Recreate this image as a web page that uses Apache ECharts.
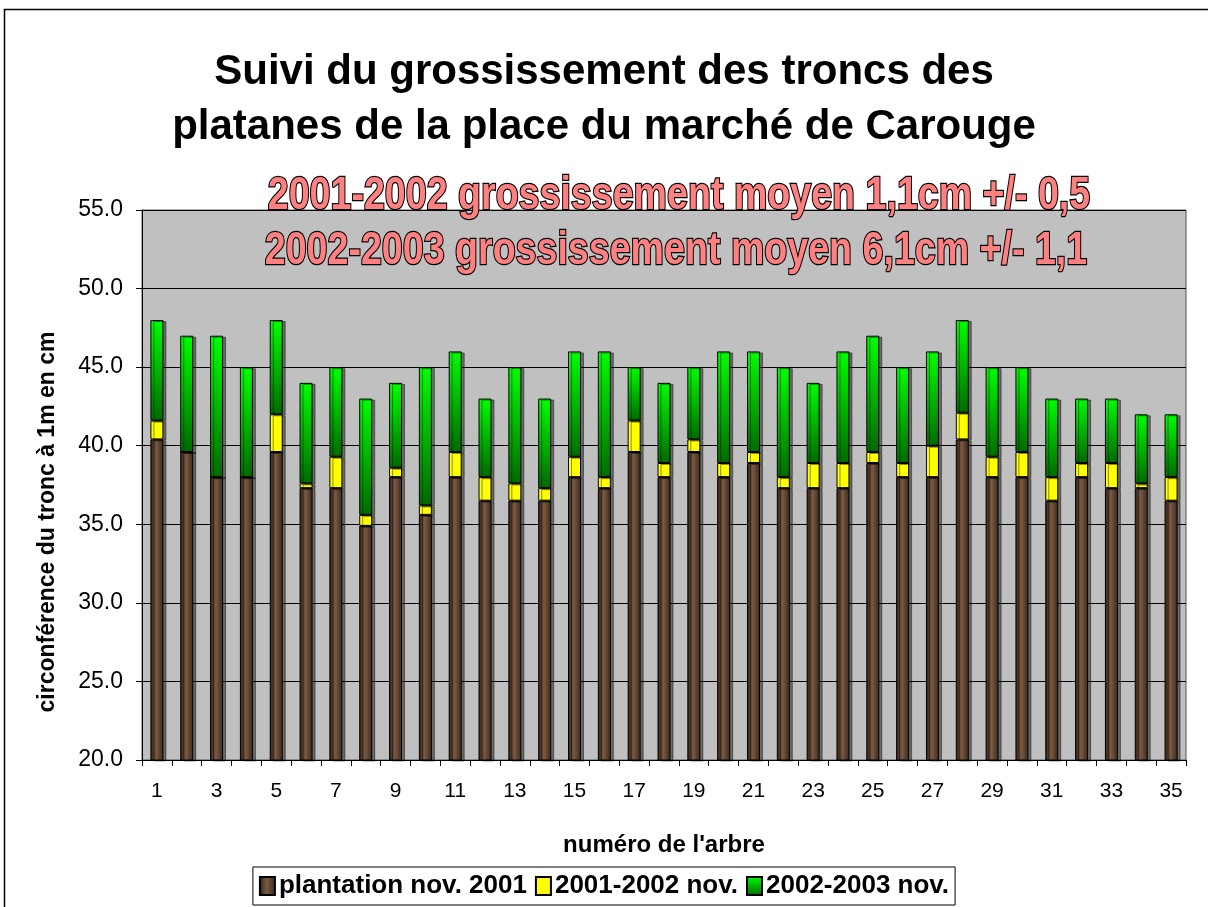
<!DOCTYPE html>
<html>
<head>
<meta charset="utf-8">
<script src="https://cdn.jsdelivr.net/npm/echarts@6/dist/echarts.min.js"></script>
<style>
html,body{margin:0;padding:0;background:#fff;}
#chart{width:1208px;height:907px;}
</style>
</head>
<body>
<div id="chart"></div>
<script>
// numéros des arbres
var arbres = [];
for (var i = 1; i <= 35; i++) arbres.push(String(i));

// circonférence à la plantation (nov. 2001), cm
var plantation = [40.4, 39.6, 38.0, 38.0, 39.6, 37.3, 37.3, 34.9, 38.0, 35.6,
	38.0, 36.5, 36.5, 36.5, 38.0, 37.3, 39.6, 38.0, 39.6, 38.0,
	38.9, 37.3, 37.3, 37.3, 38.9, 38.0, 38.0, 40.4, 38.0, 38.0,
	36.5, 38.0, 37.3, 37.3, 36.5];
// grossissement 2001-2002, cm
var croissance0102 = [1.2, 0, 0, 0, 2.4, 0.3, 2.0, 0.7, 0.6, 0.6,
	1.6, 1.5, 1.1, 0.8, 1.3, 0.7, 2.0, 0.9, 0.8, 0.9,
	0.7, 0.7, 1.6, 1.6, 0.7, 0.9, 2.0, 1.7, 1.3, 1.6,
	1.5, 0.9, 1.6, 0.3, 1.5];
// circonférence en nov. 2003, cm
var total2003 = [48, 47, 47, 45, 48, 44, 45, 43, 44, 45,
	46, 43, 45, 43, 46, 46, 45, 44, 45, 46,
	46, 45, 44, 46, 47, 45, 46, 48, 45, 45,
	43, 43, 43, 42, 42];

// grossissement 2002-2003 = total - le reste
var croissance0203 = total2003.map(function(t, k){
	return +(t - plantation[k] - croissance0102[k]).toFixed(2);
});

var police = "'Liberation Sans', Arial, sans-serif";

var brun = {type:'linear', x:0, y:0, x2:1, y2:0, colorStops:[
	{offset:0, color:'#2e1e14'}, {offset:0.45, color:'#7a5a42'}, {offset:1, color:'#3a281b'}]};
var vert = {type:'linear', x:0, y:0, x2:0, y2:1, colorStops:[
	{offset:0, color:'#00ff00'}, {offset:1, color:'#006a00'}]};

var ombre = {borderColor:'#000', borderWidth:1, shadowColor:'rgba(0,0,0,0.45)', shadowOffsetX:3, shadowOffsetY:1, shadowBlur:0};

var chart = echarts.init(document.getElementById('chart'));
chart.setOption({
	animation: false,
	title: {
		text: 'Suivi du grossissement des troncs des\nplatanes de la place du marché de Carouge',
		left: 'center', top: 40,
		textStyle: {fontFamily: police, fontWeight: 'bold', fontSize: 42, lineHeight: 55, color: '#000'}
	},
	grid: {left: 142, right: 22, top: 210, bottom: 147, show: true, backgroundColor: '#c0c0c0', borderColor: '#555', borderWidth: 1},
	legend: {
		bottom: 2, left: 'center',
		backgroundColor: '#fff', borderColor: '#000', borderWidth: 1,
		padding: [6, 6, 6, 6], itemGap: 8, itemWidth: 15, itemHeight: 18, icon: 'rect',
		textStyle: {fontFamily: police, fontWeight: 'bold', fontSize: 26, color: '#000', padding: [0, 0, 0, -1]},
		data: ['plantation nov. 2001', '2001-2002 nov.', '2002-2003 nov.']
	},
	xAxis: {
		type: 'category', data: arbres,
		name: "numéro de l'arbre", nameLocation: 'middle', nameGap: 73,
		nameTextStyle: {fontFamily: police, fontWeight: 'bold', fontSize: 24, color: '#000'},
		axisLine: {lineStyle: {color: '#000'}},
		axisTick: {show: true, interval: 0, length: 6, lineStyle: {color: '#000'}},
		axisLabel: {interval: 1, margin: 21, fontFamily: police, fontSize: 21, color: '#000'}
	},
	yAxis: {
		type: 'value', min: 20, max: 55, interval: 5,
		axisLine: {show: true, lineStyle: {color: '#000'}},
		axisTick: {show: true, length: 6, lineStyle: {color: '#000'}},
		axisLabel: {margin: 19, fontFamily: police, fontSize: 23, color: '#000', formatter: function(v){ return v.toFixed(1); }},
		splitLine: {lineStyle: {color: '#000', width: 1}}
	},
	series: [
		{name: 'plantation nov. 2001', type: 'bar', stack: 'a', barWidth: 13, data: plantation,
			itemStyle: Object.assign({color: brun}, ombre)},
		{name: '2001-2002 nov.', type: 'bar', stack: 'a', barWidth: 13, data: croissance0102,
			itemStyle: Object.assign({color: '#ffff00'}, ombre)},
		{name: '2002-2003 nov.', type: 'bar', stack: 'a', barWidth: 13, data: croissance0203,
			itemStyle: Object.assign({color: vert}, ombre)}
	],
	graphic: [
		{type: 'rect', shape: {x: 4.5, y: 9.5, width: 1220, height: 920}, style: {fill: 'none', stroke: '#000', lineWidth: 1.5}, silent: true, z: 100},
		{type: 'text', x: 48, y: 522, rotation: Math.PI / 2,
			style: {text: 'circonférence du tronc à 1m en cm', font: 'bold 23px ' + police, fill: '#000', textAlign: 'center', textVerticalAlign: 'middle'}},
		{type: 'text', x: 679, y: 196, z: 50, scaleX: 0.8,
			style: {text: '2001-2002 grossissement moyen 1,1cm +/- 0,5', font: 'bold 47px ' + police,
				fill: '#ff8080', stroke: '#000', lineWidth: 2.5, textAlign: 'center', textVerticalAlign: 'middle'}},
		{type: 'text', x: 676, y: 251, z: 50, scaleX: 0.8,
			style: {text: '2002-2003 grossissement moyen 6,1cm +/- 1,1', font: 'bold 47px ' + police,
				fill: '#ff8080', stroke: '#000', lineWidth: 2.5, textAlign: 'center', textVerticalAlign: 'middle'}}
	]
});
</script>
</body>
</html>
